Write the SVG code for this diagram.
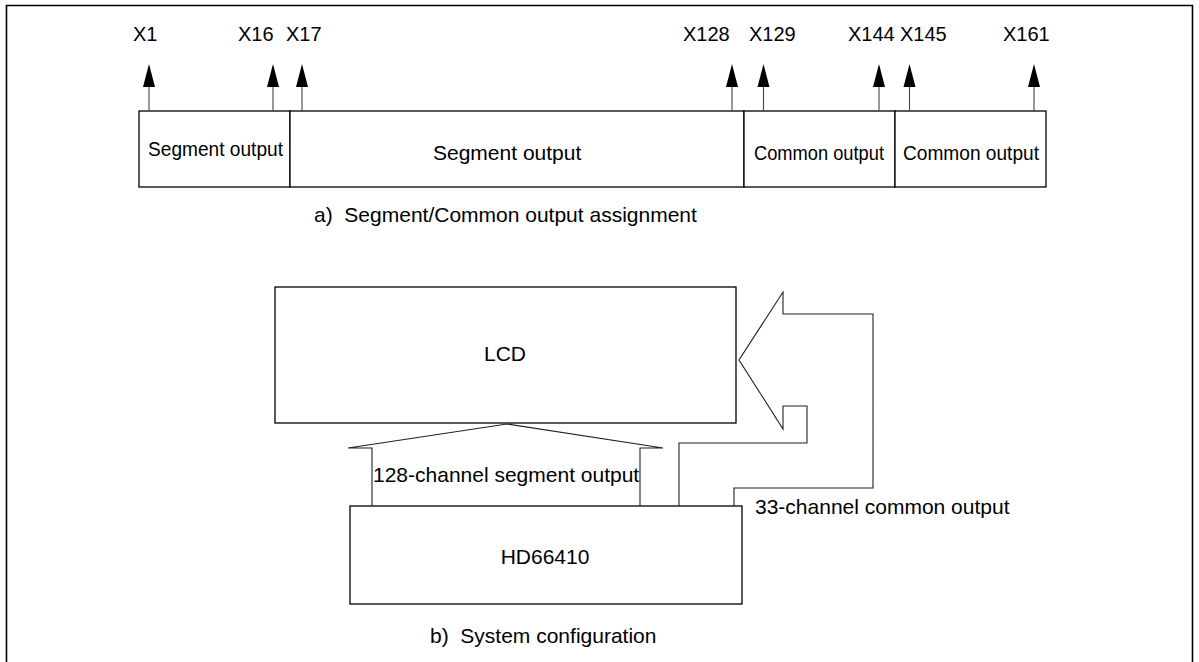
<svg xmlns="http://www.w3.org/2000/svg" xmlns:xlink="http://www.w3.org/1999/xlink" width="1199" height="662" viewBox="0 0 1199 662">
<style>
.box{fill:#fff;stroke:#000;stroke-width:1.3}
.frame{fill:none;stroke:#000;stroke-width:1.6}
.pin{stroke:#444;stroke-width:1.1}
.bus{fill:none;stroke:#222;stroke-width:1.1}
text{font-family:"Liberation Sans",Arial,sans-serif;font-size:21px;fill:#000;white-space:pre}
.lbl{font-size:20px}
.mid{text-anchor:middle}
</style>
<defs>
<path id="pinhead" d="M0,0 L-6,23 L6,23 Z" fill="#000"/>
</defs>
<rect width="1199" height="662" fill="#fff"/>
<g id="frame"><polyline class="frame" points="6.5,662 6.5,5.5 1192.5,5.5 1192.5,662"/></g>

<g id="bar">
<g id="seg1"><rect class="box" x="139" y="111" width="151" height="76"/><text x="148" y="156" textLength="135" lengthAdjust="spacingAndGlyphs">Segment output</text></g>
<g id="seg2"><rect class="box" x="290" y="111" width="454" height="76"/><text x="433" y="160">Segment output</text></g>
<g id="com1"><rect class="box" x="744" y="111" width="151" height="76"/><text x="754" y="160" textLength="130" lengthAdjust="spacingAndGlyphs">Common output</text></g>
<g id="com2"><rect class="box" x="895" y="111" width="151" height="76"/><text x="903" y="160" textLength="136" lengthAdjust="spacingAndGlyphs">Common output</text></g>
</g>

<g id="pins">
<text class="lbl" x="133" y="41">X1</text>
<text class="lbl" x="238" y="41">X16</text>
<text class="lbl" x="286" y="41">X17</text>
<text class="lbl" x="683" y="41">X128</text>
<text class="lbl" x="749" y="41">X129</text>
<text class="lbl" x="848" y="41">X144</text>
<text class="lbl" x="900" y="41">X145</text>
<text class="lbl" x="1003" y="41">X161</text>
</g>

<g id="caption-a"><text x="314" y="222" xml:space="preserve">a)  Segment/Common output assignment</text></g>

<g id="lcd"><rect class="box" x="275" y="287" width="461" height="136"/><text class="mid" x="505" y="361">LCD</text></g>
<g id="hd66410"><rect class="box" x="350" y="506" width="392" height="98"/><text class="mid" x="545" y="564">HD66410</text></g>

<g id="connectors">
<g id="pin-arrows">
<line class="pin" x1="149" y1="111" x2="149" y2="86"/><use xlink:href="#pinhead" x="149" y="64"/>
<line class="pin" x1="273" y1="111" x2="273" y2="86"/><use xlink:href="#pinhead" x="273" y="64"/>
<line class="pin" x1="302" y1="111" x2="302" y2="86"/><use xlink:href="#pinhead" x="302" y="64"/>
<line class="pin" x1="732" y1="111" x2="732" y2="86"/><use xlink:href="#pinhead" x="732" y="64"/>
<line class="pin" x1="763.5" y1="111" x2="763.5" y2="86"/><use xlink:href="#pinhead" x="763.5" y="64"/>
<line class="pin" x1="879" y1="111" x2="879" y2="86"/><use xlink:href="#pinhead" x="879" y="64"/>
<line class="pin" x1="909.5" y1="111" x2="909.5" y2="86"/><use xlink:href="#pinhead" x="909.5" y="64"/>
<line class="pin" x1="1034" y1="111" x2="1034" y2="86"/><use xlink:href="#pinhead" x="1034" y="64"/>
</g>
<polyline id="segment-bus" class="bus" points="372,506 372,448 348,448 507,424 663,448 640,448 640,506"/>
<polyline id="common-bus" class="bus" points="679,506 679,443 807,443 807,406 783,406 783,429 739,360 783,292 783,314 873,314 873,488 734,488 734,506"/>
</g>

<g id="bus-labels">
<text x="373" y="482">128-channel segment output</text>
<text x="755" y="514">33-channel common output</text>
</g>

<g id="caption-b"><text x="430" y="643" xml:space="preserve">b)  System configuration</text></g>
</svg>
